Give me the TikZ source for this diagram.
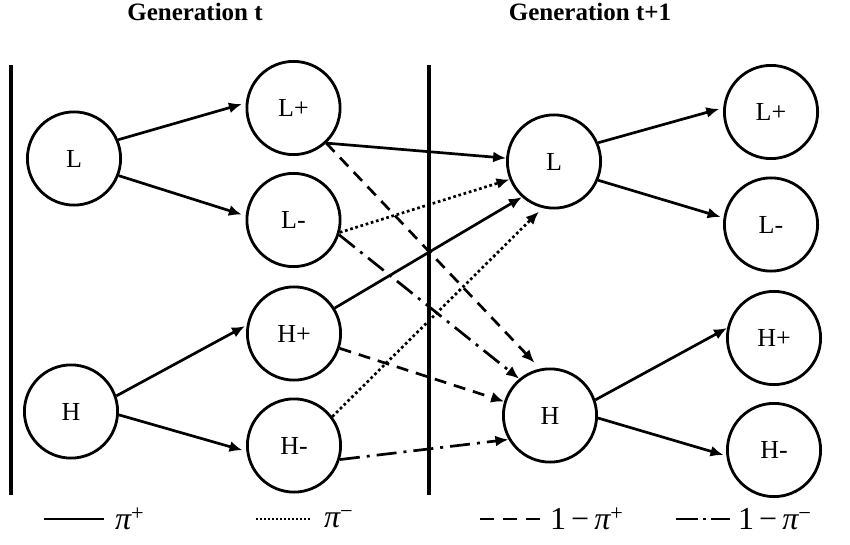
\documentclass[tikz,border=0pt]{standalone}
\usepackage{fontspec}
\setmainfont{Liberation Serif}
\usetikzlibrary{arrows.meta}
\begin{document}
\begin{tikzpicture}[x=1pt,y=-1pt,
  state/.style={circle,draw,line width=2.8pt,minimum size=93.2pt,inner sep=0pt,font=\fontsize{26}{26}\selectfont},
  conn/.style={line width=2.7pt,-{Latex[length=13pt,width=11pt]}},
  solidc/.style={conn},
  dotc/.style={conn,dash pattern=on 2.7pt off 2.7pt},
  dashc/.style={conn,dash pattern=on 12pt off 8pt},
  dashdotc/.style={conn,dash pattern=on 20pt off 7pt on 3pt off 7pt},
  sepline/.style={line width=4pt},
  title/.style={font=\fontsize{25}{25}\selectfont\bfseries,anchor=base,inner sep=0pt},
  leg/.style={font=\fontsize{32}{32}\selectfont,anchor=west,inner sep=0pt},
  legline/.style={line width=2.8pt}
]
\useasboundingbox (0,0) rectangle (850,545);

% titles
\node[title] (t1) at (195,21) {Generation t};
\node[title] (t2) at (590,21) {Generation t+1};

% separators
\coordinate (s1a) at (11,65); \coordinate (s1b) at (11,495);
\coordinate (s2a) at (429,65); \coordinate (s2b) at (429,495);
\draw[sepline] (s1a) -- (s1b);
\draw[sepline] (s2a) -- (s2b);

% generation t
\node[state] (Lt) at (74,158.5) {L};
\node[state] (Ht) at (71,411.5) {H};
\node[state] (Lp) at (293.5,108) {L+};
\node[state] (Lm) at (293.5,220) {L-};
\node[state] (Hp) at (294,333.5) {H+};
\node[state] (Hm) at (294,445.5) {H-};

% generation t+1
\node[state] (L1) at (554,161.5) {L};
\node[state] (H1) at (550,415.5) {H};
\node[state] (Rp) at (771,112) {L+};
\node[state] (Rm) at (771,224.5) {L-};
\node[state] (Rhp) at (774,338) {H+};
\node[state] (Rhm) at (774,450) {H-};

% fan arrows
\draw[solidc,shorten >=4pt] (Lt.23) -- (Lp.174);
\draw[solidc,shorten >=4pt] (Lt.-21) -- (Lm.175);
\draw[solidc,shorten >=2pt] (Ht.19) -- (Hp.170);
\draw[solidc,shorten >=4pt] (Ht.-4) -- (Hm.-173);
\draw[solidc,shorten >=4pt] (L1.23) -- (Rp.175);
\draw[solidc,shorten >=3pt] (L1.-23) -- (Rm.172);
\draw[solidc] (H1.19) -- (Rhp.168);
\draw[solidc,shorten >=3pt] (H1.-3) -- (Rhm.-173);

% cross arrows
\draw[solidc] (Lp.-47) -- (L1.176);
\draw[dashc,shorten >=8pt] (Lp.-47) -- (H1.102);
\draw[dotc] (Lm.-15) -- (L1.-158);
\draw[dashdotc] (Lm.-18) -- (H1.130);
\draw[solidc] (Hp.32) -- (L1.-132.5);
\draw[dashc] (Hp.-18) -- (H1.163);
\draw[dotc,shorten >=5pt] (Hm.37) -- (L1.-104);
\draw[dashdotc] (Hm.-17) -- (H1.-150);

% legend
\coordinate (a1) at (44,519); \coordinate (a2) at (104,519);
\coordinate (b1) at (256,519); \coordinate (b2) at (311,519);
\coordinate (c1) at (480,519); \coordinate (c2) at (540,519);
\coordinate (d1) at (676,519); \coordinate (d2) at (730,519);
\draw[legline] (a1) -- (a2);
\draw[legline,line width=2.2pt,dash pattern=on 2pt off 2pt] (b1) -- (b2);
\draw[legline,dash pattern=on 14pt off 9pt] (c1) -- (c2);
\draw[legline,dash pattern=on 22pt off 5pt on 3pt off 5pt] (d1) -- (d2);
\node[leg] (la) at (115,519) {{\itshape π}\textsuperscript{+}};
\node[leg] (lb) at (324,519) {{\itshape π}\textsuperscript{−}};
\node[leg] (lc) at (550,519) {1\hspace{5pt}−\hspace{5pt}{\itshape π}\textsuperscript{+}};
\node[leg] (ld) at (738,519) {1\hspace{5pt}−\hspace{5pt}{\itshape π}\textsuperscript{−}};
\end{tikzpicture}
\end{document}
